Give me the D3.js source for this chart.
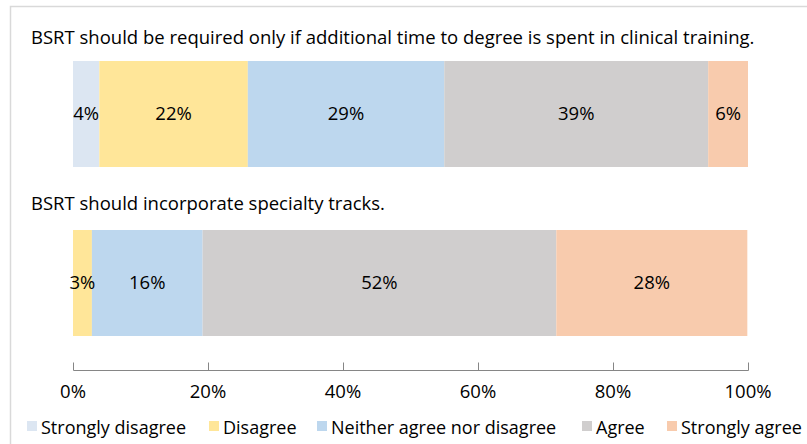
<!DOCTYPE html>
<html><head><meta charset="utf-8">
<script src="https://cdn.jsdelivr.net/npm/d3@7"></script>
<style>
html,body{margin:0;padding:0;background:#fff;overflow:hidden}
svg{display:block;font-family:"Open Sans",Lato,sans-serif}
</style></head>
<body>
<svg id="chart" width="807" height="444"></svg>
<script>
const questions = [
  "BSRT should be required only if additional time to degree is spent in clinical training.",
  "BSRT should incorporate specialty tracks."
];
const categories = ["Strongly disagree","Disagree","Neither agree nor disagree","Agree","Strongly agree"];
const q1Values = [3.9, 22.0, 29.1, 39.1, 5.9];
const q2Values = [0, 2.8, 16.4, 52.4, 28.3];
const colors = ["#dce6f2","#ffe699","#bdd7ee","#d0cece","#f8cbad"];
const tickValues = [0, 20, 40, 60, 80, 100];

const seriesValues = [q1Values, q2Values];
const titleGap = [17, 20];
const FS = 18.5;
const svg = d3.select("#chart");

// frame
svg.append("path").attr("d","M10.5,444 V6.5 H807").attr("fill","none")
  .attr("stroke","#d9d9d9").attr("stroke-width",1.5);

const x = d3.scaleLinear().domain([0,100]).range([73,748]);
const y = d3.scaleBand().domain(questions).range([61,336]).paddingInner(63/169).paddingOuter(0);

questions.forEach((q, qi) => {
  const vals = seriesValues[qi];
  let cum = 0;
  const segs = vals.map((v,i)=>{const s={q, i, v, x0:cum, x1:cum+v}; cum+=v; return s;});
  svg.append("text").attr("x",31).attr("y",y(q)-titleGap[qi])
    .attr("font-size",FS).attr("fill","#000").text(q);
  const g = svg.append("g");
  g.selectAll("rect").data(segs.filter(s=>s.v>0)).join("rect")
    .attr("x",d=>x(d.x0)).attr("width",d=>x(d.x1)-x(d.x0))
    .attr("y",y(q)).attr("height",y.bandwidth())
    .attr("fill",d=>colors[d.i]);
  g.selectAll("text").data(segs.filter(s=>s.v>0)).join("text")
    .attr("x",d=>(x(d.x0)+x(d.x1))/2).attr("y",y(q)+y.bandwidth()/2)
    .attr("dy","0.35em").attr("text-anchor","middle")
    .attr("font-size",FS).attr("fill","#000")
    .text(d=>Math.round(d.v)+"%");
});

// axis
const axis = d3.axisTop(x).tickValues(tickValues).tickSize(8).tickFormat("");
const ag = svg.append("g").attr("transform","translate(0,370.5)").call(axis);
ag.select(".domain").attr("stroke","#868686").attr("d","M73.5,0H748.5");
ag.selectAll(".tick line").attr("stroke","#868686");
svg.append("g").selectAll("text").data(tickValues).join("text")
  .attr("x",d=>x(d)).attr("y",398).attr("text-anchor","middle")
  .attr("font-size",FS).attr("fill","#000").text(d=>d+"%");

// legend
const legendX = [27, 209, 317, 582, 667];
const lg = svg.append("g");
categories.forEach((c,i)=>{
  lg.append("rect").attr("x",legendX[i]).attr("y",421).attr("width",10).attr("height",10).attr("fill",colors[i]);
  lg.append("text").attr("x",legendX[i]+14).attr("y",434).attr("font-size",18).attr("fill","#000").text(c);
});
</script>
</body></html>
